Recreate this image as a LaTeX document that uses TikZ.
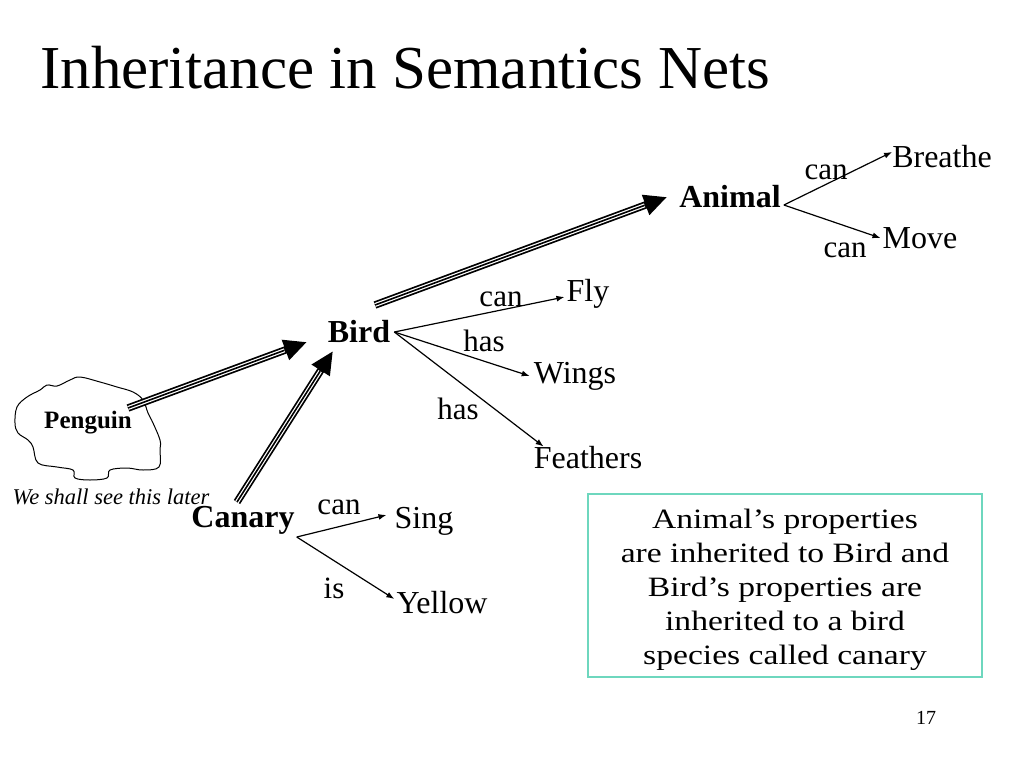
\documentclass[tikz,border=0pt]{standalone}
\usepackage{fontspec}
\setmainfont{Liberation Serif}
\newfontfamily\slidefont{Liberation Serif}[FakeStretch=1.2]
\usetikzlibrary{arrows.meta}
\definecolor{boxteal}{RGB}{110,215,190}
\tikzset{
  concept/.style={font=\fontsize{32}{36}\selectfont\bfseries, inner sep=0pt},
  prop/.style={font=\fontsize{32}{36}\selectfont, inner sep=0pt},
  rel/.style={font=\fontsize{31}{34}\selectfont, inner sep=0pt},
  link/.style={line width=1.2pt, -{Latex[length=8pt,width=6pt]}},
  isa/.style={line width=7.5pt, -{Triangle[length=23pt,width=20pt]},
    postaction={draw=white, line width=4pt, arrows=-, shorten >=24pt},
    postaction={draw=black, line width=1.6pt, arrows=-, shorten >=24pt}}
}
\begin{document}
\begin{tikzpicture}[x=1pt, y=-1pt]
    \useasboundingbox (0,0) rectangle (1024,768);

    % titulo
    \node[anchor=base west, inner sep=0pt, font=\fontsize{61}{66}\selectfont] (title) at (40,88) {Inheritance in Semantics Nets};

    % conceptos
    \node[concept] (animal) at (730,197) {Animal};
    \node[concept] (bird) at (359,332) {Bird};
    \node[concept] (canary) at (243,520) {Canary};
    \node[font=\fontsize{25}{28}\selectfont\bfseries, inner sep=0pt] (penguin) at (88,423) {Penguin};

    % propiedades
    \node[prop] (breathe) at (942,157) {Breathe};
    \node[prop] (move) at (920,238) {Move};
    \node[prop] (fly) at (588,294) {Fly};
    \node[prop] (wings) at (575,376) {Wings};
    \node[prop] (feathers) at (588,458) {Feathers};
    \node[prop] (sing) at (424,521) {Sing};
    \node[prop] (yellow) at (442,603) {Yellow};

    % nube del pinguino
    \draw[line width=1pt] plot[smooth cycle, tension=0.6] coordinates {
      (17,407) (27,397) (40,390) (47,385) (57,386) (70,380) (80,377)
      (100,382) (117,387) (133,392) (143,400) (148,413) (153,423)
      (160,440) (160,450) (159,467) (143,470) (127,468) (110,470)
      (107,478) (90,480) (75,478) (73,470) (57,467) (38,463)
      (33,447) (28,440) (18,433) (15,423)};
    \node[font=\fontsize{22.5}{25}\selectfont\itshape, inner sep=0pt] (later) at (111,497) {We shall see this later};

    % flechas de herencia
    \coordinate (bstart) at (375,305);
    \coordinate (btip) at ([xshift=-12pt]animal.west);
    \coordinate (pstart) at (128,408);
    \coordinate (ptip) at (307,342);
    \coordinate (cstart) at (237,502);
    \coordinate (ctip) at (333,351);
    \draw[isa] (bstart) -- (btip);
    \draw[isa] (pstart) -- (ptip);
    \draw[isa] (cstart) -- (ctip);

    % relaciones
    \coordinate (as) at ([xshift=3pt,yshift=-8pt]animal.east);
    \coordinate (bs) at ([xshift=4pt]bird.east);
    \coordinate (cs) at ([xshift=2pt,yshift=-17pt]canary.east);
    \draw[link] (as) -- ([yshift=5pt]breathe.west);
    \draw[link] (as) -- ([xshift=-2pt]move.west);
    \draw[link] (bs) -- ([xshift=-2pt,yshift=-3pt]fly.west);
    \draw[link] (bs) -- ([xshift=-4pt]wings.west);
    \draw[link] (bs) -- ([xshift=10pt]feathers.north west);
    \draw[link] (cs) -- ([xshift=-8pt,yshift=6pt]sing.west);
    \draw[link] (cs) -- ([xshift=-2pt,yshift=4pt]yellow.west);

    % etiquetas
    \node[rel] (canbreathe) at (826,172) {can};
    \node[rel] (canmove) at (845,250) {can};
    \node[rel] (canfly) at (501,299) {can};
    \node[rel] (haswings) at (484,341) {has};
    \node[rel] (hasfeathers) at (458,409) {has};
    \node[rel] (cansing) at (339,507) {can};
    \node[rel] (isyellow) at (334,588) {is};

    % recuadro
    \draw[draw=boxteal, line width=1.5pt] (588,494) rectangle (982,677);
    \node[align=center, inner sep=0pt, font=\slidefont\fontsize{28}{34}\selectfont] (note) at (785,590)
      {Animal’s properties\\are inherited to Bird and\\Bird’s properties are\\inherited to a bird\\species called canary};

    \node[font=\fontsize{20}{22}\selectfont, inner sep=0pt] (page) at (926,718) {17};
\end{tikzpicture}
\end{document}
